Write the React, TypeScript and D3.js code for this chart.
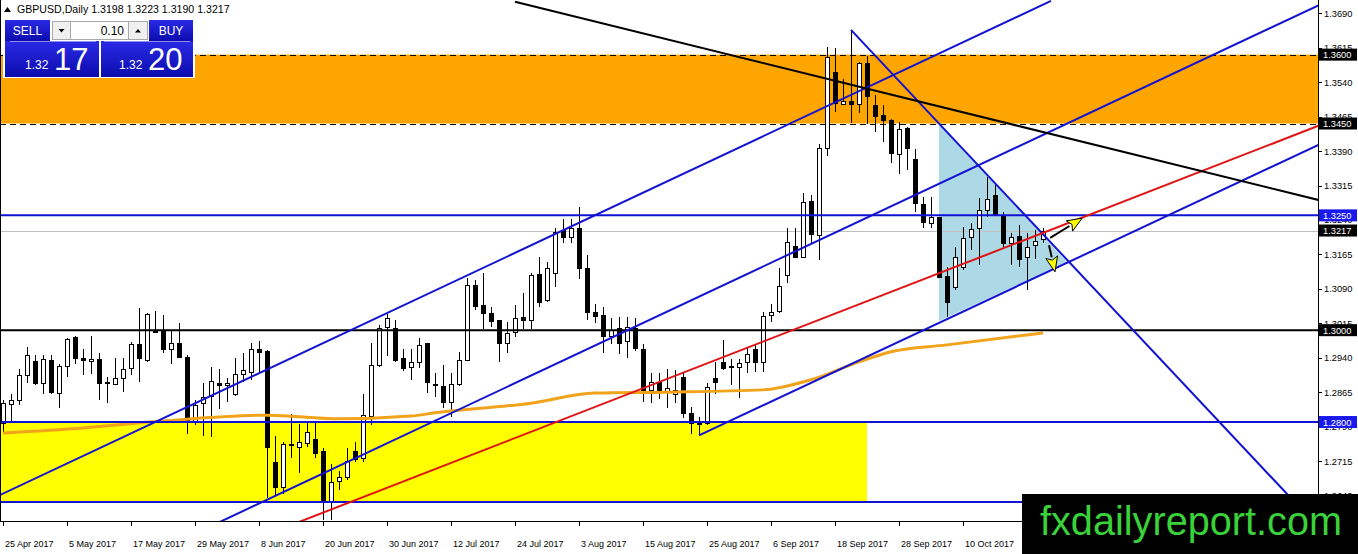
import { useEffect } from "react"
import * as d3 from "d3"

// Daily GBPUSD bars, 25 Apr 2017 .. 24 Oct 2017 (weekdays only)
const opens = [
  1.2797, 1.2839, 1.2848, 1.2902, 1.2933, 1.2884, 1.2936, 1.2864, 1.2922, 1.2985,
  1.2939, 1.2932, 1.2937, 1.2887, 1.2882, 1.2895, 1.2917, 1.2969, 1.2935, 1.2995,
  1.2999, 1.2958, 1.2973, 1.2941, 1.2803, 1.2841, 1.2857, 1.2886, 1.2881, 1.286,
  1.2904, 1.291, 1.2958, 1.2955, 1.2714, 1.2658, 1.2753, 1.2746, 1.2755, 1.2762,
  1.2737, 1.2626, 1.2672, 1.268, 1.2737, 1.2721, 1.2813, 1.2925, 1.3006, 1.3005,
  1.2939, 1.2919, 1.2931, 1.2971, 1.2883, 1.2878, 1.2844, 1.2882, 1.2936, 1.3098,
  1.3055, 1.3038, 1.3022, 1.2971, 1.2995, 1.3028, 1.3023, 1.3122, 1.3066, 1.3124,
  1.3218, 1.3202, 1.3222, 1.3135, 1.3039, 1.3033, 1.2988, 1.3004, 1.2976, 1.3005,
  1.296, 1.287, 1.2888, 1.2868, 1.2861, 1.2899, 1.282, 1.2798, 1.2797, 1.2895,
  1.2931, 1.2922, 1.292, 1.2931, 1.296, 1.2931, 1.3033, 1.3042, 1.312, 1.3183,
  1.316, 1.3282, 1.3207, 1.3396, 1.3563, 1.3492, 1.35, 1.3492, 1.3581, 1.349,
  1.3468, 1.3458, 1.3384, 1.3441, 1.3372, 1.3275, 1.3234, 1.3246, 1.3118, 1.3095,
  1.3138, 1.3202, 1.3222, 1.3262, 1.3294, 1.3251, 1.3189, 1.3204, 1.3159, 1.3185,
  1.3198,
]
const highs = [
  1.2848, 1.2862, 1.2915, 1.2963, 1.2946, 1.2946, 1.2946, 1.2926, 1.2982, 1.2987,
  1.296, 1.2987, 1.295, 1.2897, 1.2939, 1.2939, 1.2975, 1.3048, 1.3038, 1.3042,
  1.3033, 1.2999, 1.3015, 1.2946, 1.2848, 1.2884, 1.292, 1.2915, 1.2895, 1.2939,
  1.295, 1.2971, 1.2977, 1.2957, 1.2769, 1.2757, 1.2817, 1.2795, 1.2803, 1.2803,
  1.2743, 1.2709, 1.2694, 1.2743, 1.2757, 1.2861, 1.2971, 1.3011, 1.3035, 1.3022,
  1.2958, 1.2958, 1.2982, 1.2973, 1.2907, 1.2925, 1.2906, 1.2953, 1.3113, 1.3109,
  1.3124, 1.3051, 1.3023, 1.3018, 1.3055, 1.3082, 1.3124, 1.3159, 1.3149, 1.3222,
  1.3243, 1.3243, 1.3269, 1.3164, 1.3058, 1.3051, 1.3026, 1.3029, 1.3029, 1.3026,
  1.297, 1.2906, 1.2906, 1.2915, 1.2913, 1.2906, 1.2833, 1.2811, 1.2886, 1.2931,
  1.2978, 1.2938, 1.2938, 1.2964, 1.2968, 1.304, 1.3058, 1.3135, 1.3222, 1.3222,
  1.3298, 1.3294, 1.3405, 1.3617, 1.3614, 1.3548, 1.3654, 1.3585, 1.3597, 1.3512,
  1.349, 1.3459, 1.3454, 1.3443, 1.3394, 1.3291, 1.3291, 1.3247, 1.3138, 1.3182,
  1.3225, 1.3234, 1.3287, 1.3334, 1.3316, 1.3258, 1.3211, 1.3229, 1.3211, 1.3218,
  1.3223,
]
const lows = [
  1.2775, 1.2801, 1.2837, 1.2886, 1.2881, 1.2862, 1.2862, 1.283, 1.2899, 1.2926,
  1.2902, 1.2904, 1.2848, 1.2842, 1.2881, 1.2866, 1.2902, 1.2888, 1.2931, 1.2993,
  1.2951, 1.2926, 1.2939, 1.2774, 1.2793, 1.2769, 1.2768, 1.2828, 1.2844, 1.2857,
  1.2888, 1.2891, 1.291, 1.2634, 1.2641, 1.2643, 1.2721, 1.2688, 1.2746, 1.2721,
  1.2587, 1.2587, 1.2652, 1.2674, 1.2713, 1.2713, 1.2793, 1.292, 1.2944, 1.2931,
  1.2912, 1.2891, 1.2917, 1.2864, 1.2855, 1.283, 1.2812, 1.2878, 1.2933, 1.3044,
  1.3002, 1.3008, 1.2931, 1.2951, 1.2986, 1.3002, 1.3002, 1.305, 1.3062, 1.3095,
  1.3189, 1.3189, 1.3111, 1.3022, 1.3015, 1.2951, 1.297, 1.2949, 1.2939, 1.2955,
  1.2844, 1.2841, 1.2851, 1.283, 1.2841, 1.2808, 1.2775, 1.2772, 1.2793, 1.2862,
  1.2913, 1.2881, 1.2852, 1.2906, 1.291, 1.291, 1.3018, 1.3037, 1.3102, 1.3158,
  1.3158, 1.3189, 1.3153, 1.3379, 1.3476, 1.349, 1.3452, 1.3472, 1.345, 1.3432,
  1.341, 1.3363, 1.3341, 1.3349, 1.3258, 1.3222, 1.3222, 1.3113, 1.3029, 1.3087,
  1.3131, 1.3174, 1.3142, 1.3247, 1.3251, 1.3182, 1.3142, 1.3138, 1.3087, 1.3156,
  1.319,
]
const closes = [
  1.2841, 1.2848, 1.2902, 1.2947, 1.2884, 1.2937, 1.2866, 1.2922, 1.298, 1.2939,
  1.2934, 1.2937, 1.2884, 1.2884, 1.2895, 1.2915, 1.2969, 1.2939, 1.3035, 1.2999,
  1.296, 1.2973, 1.2941, 1.2804, 1.2837, 1.2855, 1.289, 1.2881, 1.2886, 1.2904,
  1.2913, 1.2958, 1.2952, 1.2745, 1.2658, 1.2752, 1.275, 1.2756, 1.2779, 1.2733,
  1.2626, 1.2669, 1.268, 1.2715, 1.2719, 1.2815, 1.2924, 1.3005, 1.3026, 1.2935,
  1.2917, 1.2931, 1.2968, 1.2888, 1.288, 1.2844, 1.2883, 1.2936, 1.3098, 1.3053,
  1.3038, 1.3021, 1.2971, 1.2993, 1.3026, 1.3023, 1.312, 1.3062, 1.3135, 1.3213,
  1.3202, 1.3222, 1.3136, 1.3039, 1.3031, 1.2988, 1.3, 1.2973, 1.3008, 1.2962,
  1.287, 1.2888, 1.2866, 1.2873, 1.287, 1.282, 1.2797, 1.2796, 1.2877, 1.2888,
  1.2917, 1.2919, 1.2929, 1.2948, 1.2931, 1.3031, 1.304, 1.3096, 1.3193, 1.316,
  1.328, 1.3209, 1.3396, 1.3594, 1.3494, 1.3498, 1.3492, 1.3581, 1.351, 1.3466,
  1.3458, 1.3385, 1.3439, 1.3396, 1.3276, 1.3236, 1.3246, 1.3116, 1.3062, 1.316,
  1.32, 1.322, 1.3262, 1.3285, 1.3251, 1.3189, 1.3202, 1.3156, 1.3182, 1.3195,
  1.3217,
]

// moving average, read at a few bars
const maIdx = [0, 10, 20, 33, 42, 51, 54, 66, 74, 83, 95, 101, 107, 111, 118, 130]
const maValues = [
  1.2776, 1.2787, 1.2802, 1.2815, 1.2807, 1.2813, 1.282, 1.2841, 1.2863, 1.2865,
  1.287, 1.2892, 1.2931, 1.2953, 1.2968, 1.2994,
]

const dateTickIdx = [0, 8, 16, 24, 32, 40, 48, 56, 64, 72, 80, 88, 96, 104, 112, 120]
const dateTickLabels = [
  "25 Apr 2017", "5 May 2017", "17 May 2017", "29 May 2017", "8 Jun 2017", "20 Jun 2017",
  "30 Jun 2017", "12 Jul 2017", "24 Jul 2017", "3 Aug 2017", "15 Aug 2017", "25 Aug 2017",
  "6 Sep 2017", "18 Sep 2017", "28 Sep 2017", "10 Oct 2017",
]
const priceTicks = [
  1.369, 1.3615, 1.354, 1.3465, 1.339, 1.3315, 1.324, 1.3165, 1.309, 1.3015, 1.294,
  1.2865, 1.279, 1.2715, 1.264,
]

// drawing objects as (bar index, price)
const blueRays = [
  [[-1, 1.2636], [131, 1.3717]],
  [[24, 1.2557], [165, 1.3712]],
  [[87, 1.2771], [165, 1.3408]],
  [[106, 1.3654], [165, 1.256]],
]
const redRay = [[34, 1.2562], [165, 1.3449]]
const blackRay = [[64, 1.3715], [165, 1.3281]]
const blueLevels = [1.325, 1.28, 1.2626]
const blackLevels = [1.3]
const dashedLevels = [1.36, 1.345]
const bidLevel = 1.3217
const orangeZone = [-1, 170, 1.345, 1.36]
const yellowZone = [-1, 108, 1.2626, 1.28]
const triangle = [[117, 1.3453], [117, 1.302], [133, 1.3148]]
const arrowTails = [[130.9, 1.3201], [130.75, 1.3185]]
const arrowTips = [[134.9, 1.3244], [131.5, 1.3127]]
const blackLabels = [1.36, 1.345, 1.3217, 1.3]
const blueLabels = [1.325, 1.28]

const BLUE = "#1212d2"
const FONT = "'Liberation Sans', Arial, sans-serif"

export default function App() {
  useEffect(() => {
    document.body.style.margin = "0"
  }, [])

  const W = 1358
  const H = 554
  const right = 1318
  const bottom = 521

  const x = d3.scaleLinear().domain([0, 130]).range([3, 1043])
  const y = d3.scaleLinear().domain([1.264, 1.369]).range([495.5, 13.3])

  const seg = (s: number[][]) => ({ x1: x(s[0][0]), y1: y(s[0][1]), x2: x(s[1][0]), y2: y(s[1][1]) })

  const maLine = d3
    .line<number>()
    .x((_, i) => x(maIdx[i]))
    .y((d) => y(d))
    .curve(d3.curveMonotoneX)

  const triPath = d3.line<number[]>().x((d) => x(d[0])).y((d) => y(d[1]))(triangle) + "Z"

  return (
    <svg width={W} height={H} style={{ display: "block", background: "#fff" }} fontFamily={FONT}>
      <defs>
        <clipPath id="plot">
          <rect x={0} y={0} width={right} height={bottom} />
        </clipPath>
        <linearGradient id="panel" x1="0" y1="0" x2="0" y2="1">
          <stop offset="0" stopColor="#2a2ae6" />
          <stop offset="1" stopColor="#0c0cae" />
        </linearGradient>
      </defs>

      <g clipPath="url(#plot)">
        {/* zones */}
        <rect
          x={x(orangeZone[0])}
          y={y(orangeZone[3])}
          width={x(orangeZone[1]) - x(orangeZone[0])}
          height={y(orangeZone[2]) - y(orangeZone[3])}
          fill="#ffa500"
        />
        <rect
          x={x(yellowZone[0])}
          y={y(yellowZone[3])}
          width={x(yellowZone[1]) - x(yellowZone[0])}
          height={y(yellowZone[2]) - y(yellowZone[3])}
          fill="#ffff00"
        />
        <path d={triPath} fill="#add8e6" />

        {dashedLevels.map((p) => (
          <line key={p} x1={0} x2={right} y1={Math.round(y(p)) + 0.5} y2={Math.round(y(p)) + 0.5} stroke="#000" strokeDasharray="6,4" />
        ))}
        <line x1={0} x2={right} y1={Math.round(y(bidLevel)) + 0.5} y2={Math.round(y(bidLevel)) + 0.5} stroke="#c0c0c0" />

        {/* candles */}
        <g shapeRendering="crispEdges">
          {opens.map((o, i) => {
            const c = closes[i]
            const cx = Math.round(x(i))
            const t = Math.round(y(Math.max(o, c))) + 0.5
            const b = Math.round(y(Math.min(o, c))) + 0.5
            return (
              <g key={i}>
                <line x1={cx + 0.5} x2={cx + 0.5} y1={y(highs[i])} y2={y(lows[i])} stroke="#000" />
                <path d={`M${cx - 1.5},${t}H${cx + 2.5}V${b}H${cx - 1.5}Z`} fill={c >= o ? "#fff" : "#000"} stroke="#000" />
              </g>
            )
          })}
        </g>

        <path d={maLine(maValues) || ""} fill="none" stroke="#f2a31c" strokeWidth={3} />

        {blackLevels.map((p) => (
          <line key={p} x1={0} x2={right} y1={y(p)} y2={y(p)} stroke="#000" strokeWidth={2} />
        ))}
        {blueLevels.map((p) => (
          <line key={p} x1={0} x2={right} y1={y(p)} y2={y(p)} stroke={BLUE} strokeWidth={2} />
        ))}
        {blueRays.map((s, i) => (
          <line key={i} {...seg(s)} stroke={BLUE} strokeWidth={2} />
        ))}
        <line {...seg(redRay)} stroke="#e01414" strokeWidth={2} />
        <line {...seg(blackRay)} stroke="#000" strokeWidth={2} />

        {/* arrows */}
        {arrowTails.map((tail, i) => {
          const x0 = x(tail[0])
          const y0 = y(tail[1])
          const x1 = x(arrowTips[i][0])
          const y1 = y(arrowTips[i][1])
          const len = Math.hypot(x1 - x0, y1 - y0)
          const ux = (x1 - x0) / len
          const uy = (y1 - y0) / len
          const hl = Math.min(15, len * 0.6)
          const bx = x1 - ux * hl
          const by = y1 - uy * hl
          const hw = 6
          return (
            <g key={i}>
              <line x1={x0} y1={y0} x2={bx} y2={by} stroke="#000" strokeWidth={2} />
              <path
                d={`M${x1},${y1}L${bx - uy * hw},${by + ux * hw}L${bx + ux * 3},${by + uy * 3}L${bx + uy * hw},${by - ux * hw}Z`}
                fill="#ffff00"
                stroke="#000"
                strokeWidth={1}
              />
            </g>
          )
        })}
      </g>

      {/* frame */}
      <g shapeRendering="crispEdges">
        <line x1={0.5} x2={0.5} y1={0} y2={bottom} stroke="#000" />
        <line x1={right + 0.5} x2={right + 0.5} y1={0} y2={bottom + 0.5} stroke="#000" />
        <line x1={0} x2={right + 0.5} y1={bottom + 0.5} y2={bottom + 0.5} stroke="#000" />
      </g>

      {/* price axis */}
      {priceTicks.map((p) => (
        <g key={p}>
          <line x1={right} x2={right + 4} y1={Math.round(y(p)) + 0.5} y2={Math.round(y(p)) + 0.5} stroke="#000" />
          <text x={right + 6} y={y(p) + 3.5} fontSize={9.3} fill="#000">
            {p.toFixed(4)}
          </text>
        </g>
      ))}
      {blackLabels.map((p) => (
        <g key={p}>
          <rect x={right + 1} y={y(p) - 6} width={38} height={12} fill="#000" />
          <text x={right + 5} y={y(p) + 3.5} fontSize={9.3} fill="#fff">
            {p.toFixed(4)}
          </text>
        </g>
      ))}
      {blueLabels.map((p) => (
        <g key={p}>
          <rect x={right + 1} y={y(p) - 6} width={38} height={12} fill="#1a1af0" />
          <text x={right + 5} y={y(p) + 3.5} fontSize={9.3} fill="#fff">
            {p.toFixed(4)}
          </text>
        </g>
      ))}

      {/* time axis */}
      {dateTickIdx.map((d, i) => (
        <g key={d}>
          <line x1={Math.round(x(d)) + 0.5} x2={Math.round(x(d)) + 0.5} y1={bottom} y2={bottom + 5} stroke="#000" />
          <text x={x(d) + 2} y={547} fontSize={9} fill="#000">
            {dateTickLabels[i]}
          </text>
        </g>
      ))}

      {/* header */}
      <path d="M4,12 L7.5,7 L11,12 Z" fill="#000" />
      <text x={17} y={13} fontSize={10.6} fill="#000">
        GBPUSD,Daily  1.3198 1.3223 1.3190 1.3217
      </text>

      {/* one click trading panel */}
      <g>
        <rect x={3} y={19} width={192} height={59} fill="#fff" />
        <rect x={5} y={20} width={45} height={21} fill="url(#panel)" />
        <text x={27.5} y={35} fontSize={12} fill="#fff" textAnchor="middle">SELL</text>
        <rect x={52.5} y={21.5} width={18} height={18} fill="#f0f0f0" stroke="#a8a8a8" />
        <path d="M58.5,29 L64.5,29 L61.5,32.5 Z" fill="#000" />
        <rect x={70.5} y={21.5} width={58} height={18} fill="#fff" stroke="#a8a8a8" />
        <text x={124} y={35} fontSize={12} fill="#000" textAnchor="end">0.10</text>
        <rect x={128.5} y={21.5} width={19} height={18} fill="#f0f0f0" stroke="#a8a8a8" />
        <path d="M135,32.5 L141,32.5 L138,29 Z" fill="#000" />
        <rect x={149} y={20} width={44} height={21} fill="url(#panel)" />
        <text x={171} y={35} fontSize={12} fill="#fff" textAnchor="middle">BUY</text>
        <rect x={5} y={41} width={94} height={36} fill="url(#panel)" />
        <rect x={101} y={41} width={92} height={36} fill="url(#panel)" />
        <line x1={10} x2={96} y1={41.5} y2={41.5} stroke="#8c8cf0" />
        <line x1={104} x2={190} y1={41.5} y2={41.5} stroke="#8c8cf0" />
        <text x={25} y={69} fontSize={12} fill="#fff">1.32</text>
        <text x={54} y={70} fontSize={31} fill="#fff">17</text>
        <text x={119} y={69} fontSize={12} fill="#fff">1.32</text>
        <text x={148} y={70} fontSize={31} fill="#fff">20</text>
      </g>

      {/* watermark */}
      <rect x={1022} y={494} width={336} height={60} fill="#000" />
      <text x={1040} y={535} fontSize={40} fill="#3ad23a" textLength={302} lengthAdjust="spacingAndGlyphs">
        fxdailyreport.com
      </text>
    </svg>
  )
}
